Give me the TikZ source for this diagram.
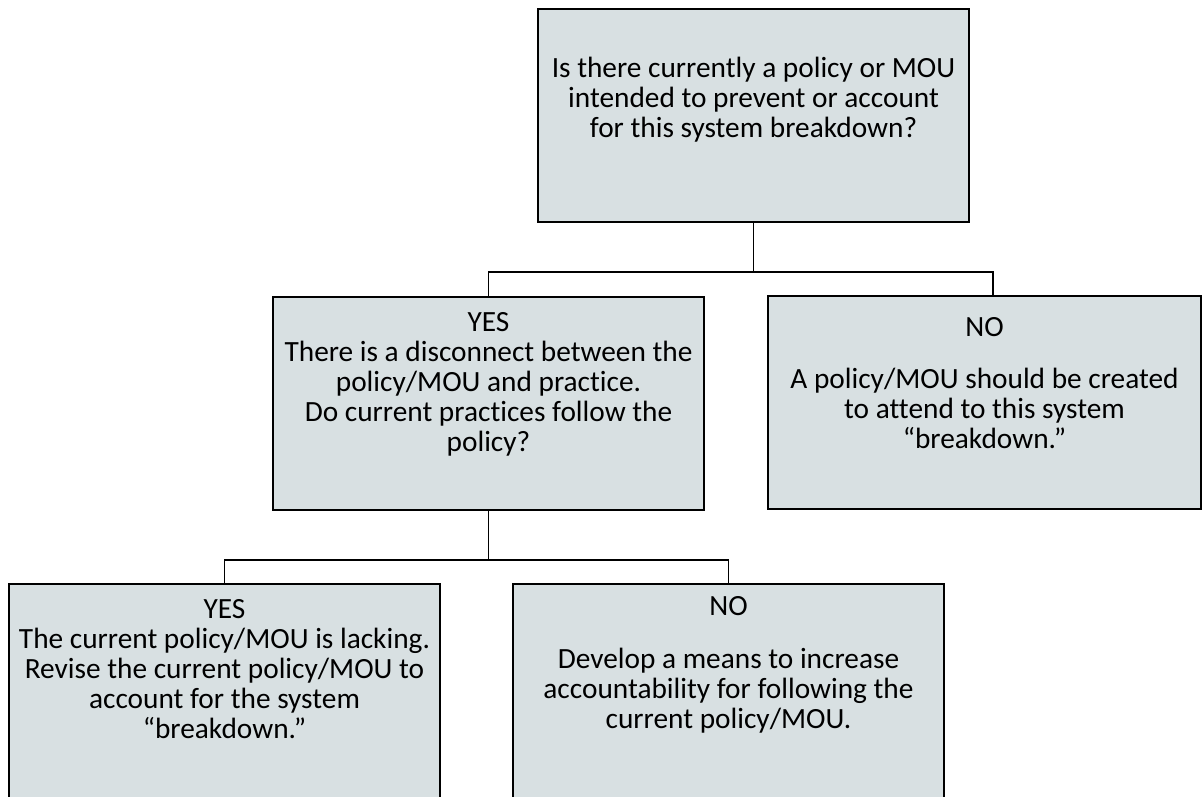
\documentclass[tikz,border=0pt]{standalone}
\usepackage{fontspec}
\setmainfont{Carlito}[Ligatures=NoCommon]
\usetikzlibrary{calc,positioning}
\definecolor{boxfill}{RGB}{216,224,226}
\begin{document}
\begin{tikzpicture}[x=0.75pt,y=-0.75pt, every node/.style={font=\fontsize{22}{22.5}\selectfont},
    box/.style={draw, line width=1.3pt, fill=boxfill, rectangle, inner sep=0pt, minimum width=431*0.75pt, minimum height=213*0.75pt},
    txt/.style={align=center, inner sep=0pt},
    link/.style={line width=1.2pt}]
    \useasboundingbox (0,0) rectangle (1202,796);
    \clip (0,0) rectangle (1202,796);
    \node[box] (q) at (753.5,115.5) {};
    \node[box] (yes1) at (488.5,403.5) {};
    \node[box, minimum width=433*0.75pt] (no1) at (984.5,402.5) {};
    \node[box, minimum height=220*0.75pt] (yes2) at (224.5,694) {};
    \node[box, minimum height=220*0.75pt] (no2) at (728.5,694) {};
    \node[txt] at (753.5,100) {Is there currently a policy or MOU\\intended to prevent or account\\for this system breakdown?};
    \node[txt] at (488.5,384) {YES\\There is a disconnect between the\\policy/MOU and practice.\\Do current practices follow the\\policy?};
    \node[txt] at (984.5,383) {NO\\[0.75\baselineskip]A policy/MOU should be created\\to attend to this system\\“breakdown.”};
    \node[txt] at (224.5,669) {YES\\The current policy/MOU is lacking.\\Revise the current policy/MOU to\\account for the system\\“breakdown.”};
    \node[txt] at (728.5,665) {NO\\[0.75\baselineskip]Develop a means to increase\\accountability for following the\\current policy/MOU.};
    \coordinate (j1) at (753.5,272);
    \coordinate (j2) at (488.5,560);
    \draw[link] (q.south) -- (j1);
    \draw[link] (yes1.north) |- (j1) -| ([xshift=6.4pt]no1.north);
    \draw[link] (yes1.south) -- (j2);
    \draw[link] (yes2.north) |- (j2) -| (no2.north);
\end{tikzpicture}
\end{document}
